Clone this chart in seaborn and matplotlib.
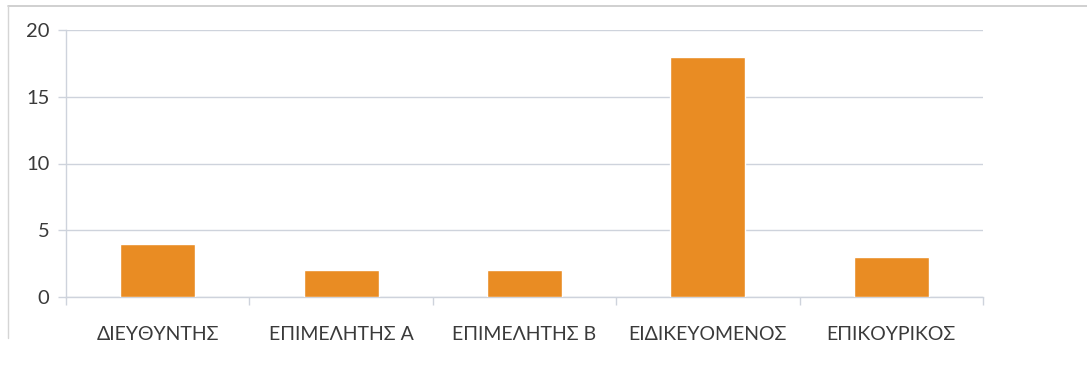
import numpy as np
import pandas as pd
import matplotlib
matplotlib.use("Agg")
import matplotlib.pyplot as plt
from matplotlib.lines import Line2D
import seaborn as sns

categories = ["ΔΙΕΥΘΥΝΤΗΣ", "ΕΠΙΜΕΛΗΤΗΣ Α", "ΕΠΙΜΕΛΗΤΗΣ Β", "ΕΙΔΙΚΕΥΟΜΕΝΟΣ", "ΕΠΙΚΟΥΡΙΚΟΣ"]
counts = [4, 2, 2, 18, 3]
y_ticks = [0, 5, 10, 15, 20]

df = pd.DataFrame({"category": categories, "count": counts})

sns.set_theme(style="white")
plt.rcParams["font.family"] = ["Lato", "DejaVu Sans"]

fig = plt.figure(figsize=(10.87, 3.77), dpi=100)
ax = fig.add_axes([66 / 1087, 1 - 297 / 377, (983 - 66) / 1087, (297 - 30) / 377])

bar_color = "#E98C23"
grid_color = "#CED3DC"
text_color = "#3A3A3A"

sns.barplot(data=df, x="category", y="count", color=bar_color, saturation=1,
            width=0.41, ax=ax, zorder=3)

ax.set_xlim(-0.5, len(categories) - 0.5)
ax.set_ylim(0, 20)
ax.set_yticks(y_ticks)
ax.set_yticklabels([str(v) for v in y_ticks])
ax.set_xlabel("")
ax.set_ylabel("")

for v in y_ticks:
    ax.axhline(v, color=grid_color, lw=1.0, zorder=1)

for side in ["top", "right"]:
    ax.spines[side].set_visible(False)
ax.spines["left"].set_color(grid_color)
ax.spines["bottom"].set_color(grid_color)
ax.spines["left"].set_linewidth(1.0)
ax.spines["bottom"].set_linewidth(1.0)

ax.set_xticks(np.arange(-0.5, len(categories)), minor=True)
ax.tick_params(axis="x", which="minor", length=6, width=1.0, color=grid_color, direction="out", bottom=True)
ax.tick_params(axis="x", which="major", length=0, pad=21, labelsize=14, labelcolor=text_color)
ax.tick_params(axis="y", which="major", length=6, width=1.0, color=grid_color, direction="out", left=True,
               pad=6, labelsize=14.5, labelcolor=text_color)

# thin frame edge around the chart area
fig.add_artist(Line2D([8 / 1087, 1.0], [1 - 6 / 377, 1 - 6 / 377], color="#C8C8C8", lw=1.2,
                      transform=fig.transFigure))
fig.add_artist(Line2D([8 / 1087, 8 / 1087], [1 - 6 / 377, 1 - 338 / 377], color="#D5D5D5", lw=1.0,
                      transform=fig.transFigure))

fig.savefig("out.png", dpi=100, facecolor="white")
